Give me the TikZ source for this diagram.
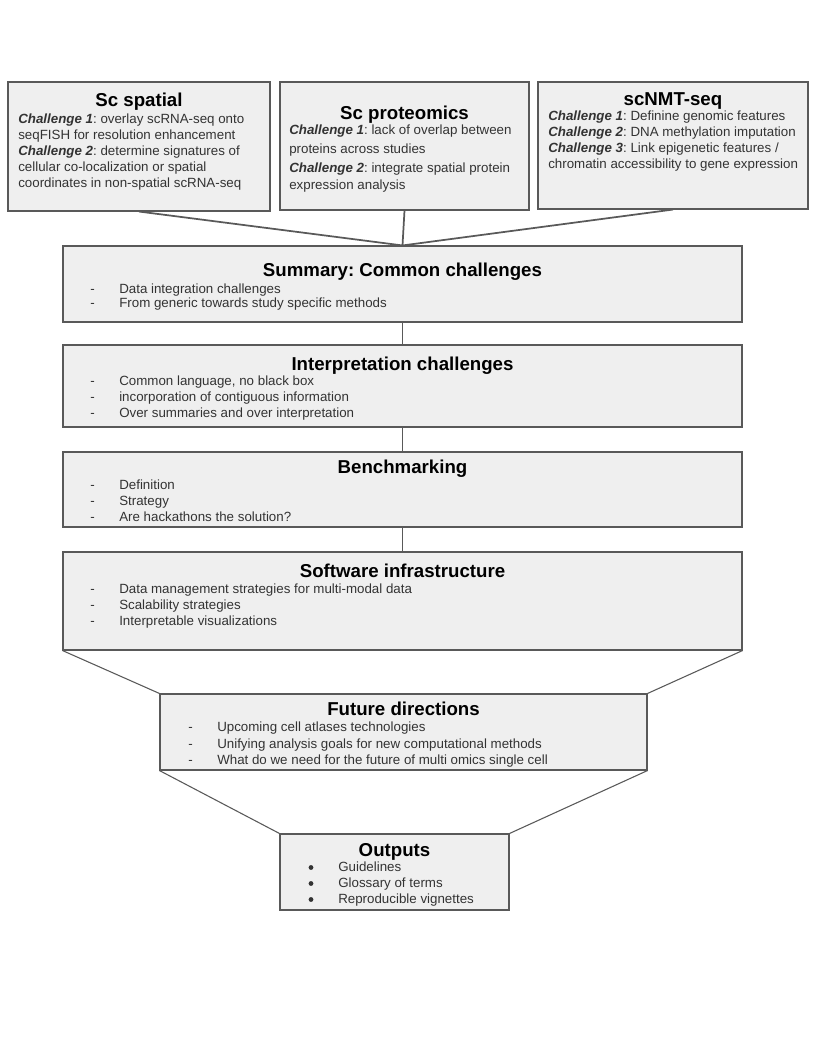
\documentclass[tikz,border=0pt]{standalone}
\usepackage{fontspec}
\setmainfont{Liberation Sans}
\usetikzlibrary{fit}
\frenchspacing
\definecolor{boxfill}{HTML}{EFEFEF}
\definecolor{boxline}{HTML}{595959}
\definecolor{bodytext}{HTML}{333333}
\tikzset{
  x=0.75pt, y=-0.75pt,
  box/.style={draw=boxline, fill=boxfill, line width=0.8pt, inner sep=0pt, rectangle},
  ttl/.style={font=\fontsize{14pt}{16pt}\selectfont\bfseries, text=black, anchor=base, inner sep=0pt},
  body/.style={font=\fontsize{10pt}{12pt}\selectfont, text=bodytext, anchor=base west, inner sep=0pt},
  dot/.style={circle, fill=bodytext, inner sep=0pt, minimum size=3.6pt},
  conn/.style={draw=boxline, line width=1.3pt},
  thin/.style={draw=boxline, line width=0.8pt},
}
\newcommand\mkbox[5]{%
  \coordinate (#1-a) at (#2,#3); \coordinate (#1-b) at (#4,#5);
  \node[box, fit=(#1-a)(#1-b)] (#1) {};}
\newcommand\lst[5]{% name, markx, textx, y, text
  \node[body] (#1m) at (#2,#4) {-};
  \node[body] (#1t) at (#3,#4) {#5};}
\newcommand\bul[5]{%
  \node[dot] (#1m) at (#2,#4-4) {};
  \node[body] (#1t) at (#3,#4) {#5};}
\newcommand\ch[1]{\textbf{\textit{Challenge #1}}}
\begin{document}
\begin{tikzpicture}
\useasboundingbox (0,0) rectangle (816,1056);
\fill[white] (0,0) rectangle (816,1056);
% boxes
\mkbox{sp}{8}{82}{270}{211}
\mkbox{pr}{280}{82}{529}{210}
\mkbox{nmt}{538}{82}{808}{209}
\mkbox{sum}{63}{246}{742}{322}
\mkbox{int}{63}{345}{742}{427}
\mkbox{ben}{63}{452}{742}{527}
\mkbox{sw}{63}{552}{742}{650}
\mkbox{fut}{160}{694}{647}{770}
\mkbox{out}{280}{834}{509}{910}
% connectors
\draw[conn] (sp.south) -- (sum.north);
\draw[conn] (pr.south) -- (sum.north);
\draw[conn] (nmt.south) -- (sum.north);
\draw[thin] (sum.south) -- (int.north);
\draw[thin] (int.south) -- (ben.north);
\draw[thin] (ben.south) -- (sw.north);
\draw[thin] (sw.south west) -- (fut.north west);
\draw[thin] (sw.south east) -- (fut.north east);
\draw[thin] (fut.south west) -- (out.north west);
\draw[thin] (fut.south east) -- (out.north east);
% Sc spatial
\node[ttl] (spT) at (139,107) {Sc spatial};
\node[body] (sp1) at (18,123.5) {\ch{1}: overlay scRNA-seq onto};
\node[body] (sp2) at (18,139.5) {seqFISH for resolution enhancement};
\node[body] (sp3) at (18,155.5) {\ch{2}: determine signatures of};
\node[body] (sp4) at (18,171.5) {cellular co-localization or spatial};
\node[body] (sp5) at (18,187.5) {coordinates in non-spatial scRNA-seq};
% Sc proteomics
\node[ttl] (prT) at (404.5,119) {Sc proteomics};
\node[body] (pr1) at (289,134.5) {\ch{1}: lack of overlap between};
\node[body] (pr2) at (289,153) {proteins across studies};
\node[body] (pr3) at (289,172) {\ch{2}: integrate spatial protein};
\node[body] (pr4) at (289,189) {expression analysis};
% scNMT
\node[ttl] (nmtT) at (673,105) {scNMT-seq};
\node[body] (n1) at (548,120.5) {\ch{1}: Definine genomic features};
\node[body] (n2) at (548,136.5) {\ch{2}: DNA methylation imputation};
\node[body] (n3) at (548,152.5) {\ch{3}: Link epigenetic features /};
\node[body] (n4) at (548,168.5) {chromatin accessibility to gene expression};
% Summary
\node[ttl] (sumT) at (402.5,276) {Summary: Common challenges};
\lst{s1}{90}{119}{293.5}{Data integration challenges}
\lst{s2}{90}{119}{307.5}{From generic towards study specific methods}
% Interpretation
\node[ttl] (intT) at (402.5,370) {Interpretation challenges};
\lst{i1}{90}{119}{385.5}{Common language, no black box}
\lst{i2}{90}{119}{401.5}{incorporation of contiguous information}
\lst{i3}{90}{119}{417.5}{Over summaries and over interpretation}
% Benchmarking
\node[ttl] (benT) at (402.5,473) {Benchmarking};
\lst{b1}{90}{119}{489.5}{Definition}
\lst{b2}{90}{119}{505.5}{Strategy}
\lst{b3}{90}{119}{521.5}{Are hackathons the solution?}
% Software
\node[ttl] (swT) at (402.5,577) {Software infrastructure};
\lst{w1}{90}{119}{593.5}{Data management strategies for multi-modal data}
\lst{w2}{90}{119}{609.5}{Scalability strategies}
\lst{w3}{90}{119}{625.5}{Interpretable visualizations}
% Future
\node[ttl] (futT) at (403.5,715) {Future directions};
\lst{f1}{188}{217}{731.5}{Upcoming cell atlases technologies}
\lst{f2}{188}{217}{748.5}{Unifying analysis goals for new computational methods}
\lst{f3}{188}{217}{764.5}{What do we need for the future of multi omics single cell}
% Outputs
\node[ttl] (outT) at (394.5,856) {Outputs};
\bul{o1}{311}{338}{871.5}{Guidelines}
\bul{o2}{311}{338}{887.5}{Glossary of terms}
\bul{o3}{311}{338}{903.5}{Reproducible vignettes}
\end{tikzpicture}
\end{document}
